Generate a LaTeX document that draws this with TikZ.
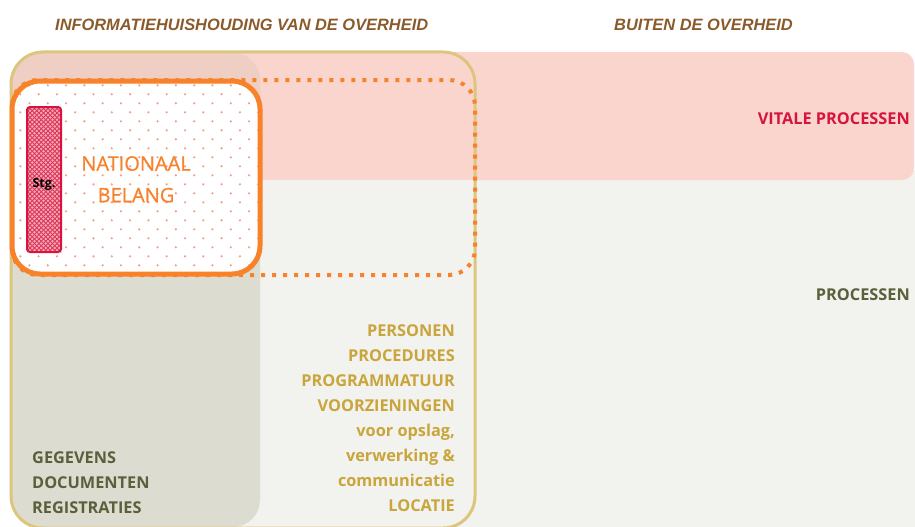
\documentclass[tikz,border=0pt]{standalone}
\usepackage{fontspec}
\setmainfont{Open Sans}
\newfontfamily\hdrfont{Liberation Sans}
\newfontfamily\natfont[FakeBold=0.7]{Open Sans}
\definecolor{greybg}{HTML}{F2F2EE}
\definecolor{pinkbg}{HTML}{F9D5CD}
\definecolor{colgrey}{HTML}{DCDDD0}
\definecolor{colpink}{HTML}{EFCEC3}
\definecolor{goldline}{HTML}{DCC67E}
\definecolor{goldtext}{HTML}{C9A53C}
\definecolor{olivetext}{HTML}{5B5F3B}
\definecolor{orangec}{HTML}{F7822A}
\definecolor{crimson}{HTML}{D6143C}
\definecolor{browntext}{HTML}{8B5A2A}
\definecolor{dotc}{HTML}{F59A88}
\definecolor{stgfill}{HTML}{F4A8B8}
\tikzset{
  lbl/.style={inner sep=0pt, font=\fontsize{16.3}{16}\selectfont\bfseries},
  goldlbl/.style={lbl, text=goldtext, anchor=base east},
  olivelbl/.style={lbl, text=olivetext, anchor=base west},
  hdr/.style={inner sep=0pt, anchor=base west, text=browntext, font=\hdrfont\fontsize{16.4}{16}\selectfont\bfseries\itshape},
  natlbl/.style={inner sep=0pt, anchor=base, text=orangec, font=\natfont\fontsize{20}{20}\selectfont},
  hatch/.style={draw=crimson!85, line width=0.8pt}
}
\begin{document}
\begin{tikzpicture}[x=1pt,y=-1pt]
\useasboundingbox (0,0) rectangle (915,527);
% backgrounds outside government box
\fill[greybg] (440,170) rectangle (915,527);
\fill[pinkbg, rounded corners=12] (440,52) rectangle (914,180);
% inside government box
\begin{scope}
  \clip[rounded corners=32] (11,52) rectangle (475,528);
  \fill[greybg] (11,52) rectangle (475,528);
  \fill[pinkbg] (11,52) rectangle (475,180);
  \begin{scope}
    \clip[rounded corners=27] (12,53) rectangle (260,527);
    \fill[colgrey] (0,0) rectangle (300,540);
    \fill[colpink] (0,0) rectangle (300,180);
  \end{scope}
\end{scope}
\draw[goldline, line width=3pt, rounded corners=32] (11,52) rectangle (475,528);
% dotted extension of national interest
\draw[orangec, line width=4pt, dash pattern=on 4pt off 7pt, rounded corners=26] (12,80) rectangle (475,275);
% national interest box
\fill[white, rounded corners=28] (12,81) rectangle (260,274);
\begin{scope}
  \clip[rounded corners=28] (12,81) rectangle (260,274);
  \foreach \j [evaluate=\j as \off using {9.15*mod(\j,2)}] in {0,...,23}
    \foreach \i in {0,...,14}
      \fill[dotc] ({2+18.3*\i+\off},{76.3+9*\j}) circle (1.2pt);
\end{scope}
\draw[orangec, line width=5pt, rounded corners=28] (12,81) rectangle (260,274);
% Stg box
\fill[stgfill, rounded corners=3] (27,107) rectangle (61,252);
\begin{scope}
  \clip (27,107) rectangle (61,252);
  \foreach \k in {0,...,42}{
    \draw[hatch] ({-120+4.5*\k},107) -- ++(146,146);
    \draw[hatch] ({27+4.5*\k},107) -- ++(-146,146);
  }
\end{scope}
\draw[crimson, line width=2pt, rounded corners=3] (27,107) rectangle (61,252);
% texts
\node[hdr] (hdrgov) at (55,30.7) {INFORMATIEHUISHOUDING VAN DE OVERHEID};
\node[hdr] (hdrout) at (614,30.7) {BUITEN DE OVERHEID};
\node[lbl, text=crimson, anchor=base east] (vital) at (910,124) {VITALE PROCESSEN};
\node[lbl, text=olivetext, anchor=base east] (proc) at (910,300.5) {PROCESSEN};
\node[natlbl] (nat1) at (136,170.7) {NATIONAAL};
\node[natlbl] (nat2) at (136,202.3) {BELANG};
\node[inner sep=0pt, anchor=base, font=\fontsize{12.5}{12.5}\selectfont\bfseries] (stg) at (44,187.7) {Stg.};
\node[olivelbl] (geg) at (32,463) {GEGEVENS};
\node[olivelbl] (doc) at (32,488) {DOCUMENTEN};
\node[olivelbl] (reg) at (32,513) {REGISTRATIES};
\node[goldlbl] (pers) at (455,336.5) {PERSONEN};
\node[goldlbl] (prcd) at (455,361.5) {PROCEDURES};
\node[goldlbl] (prog) at (455,386.5) {PROGRAMMATUUR};
\node[goldlbl] (voorz) at (455,411.5) {VOORZIENINGEN};
\node[goldlbl] (opsl) at (455,436.5) {voor opslag,};
\node[goldlbl] (verw) at (455,461.5) {verwerking \&};
\node[goldlbl] (comm) at (455,486.5) {communicatie};
\node[goldlbl] (loc) at (455,511.5) {LOCATIE};
\end{tikzpicture}
\end{document}
